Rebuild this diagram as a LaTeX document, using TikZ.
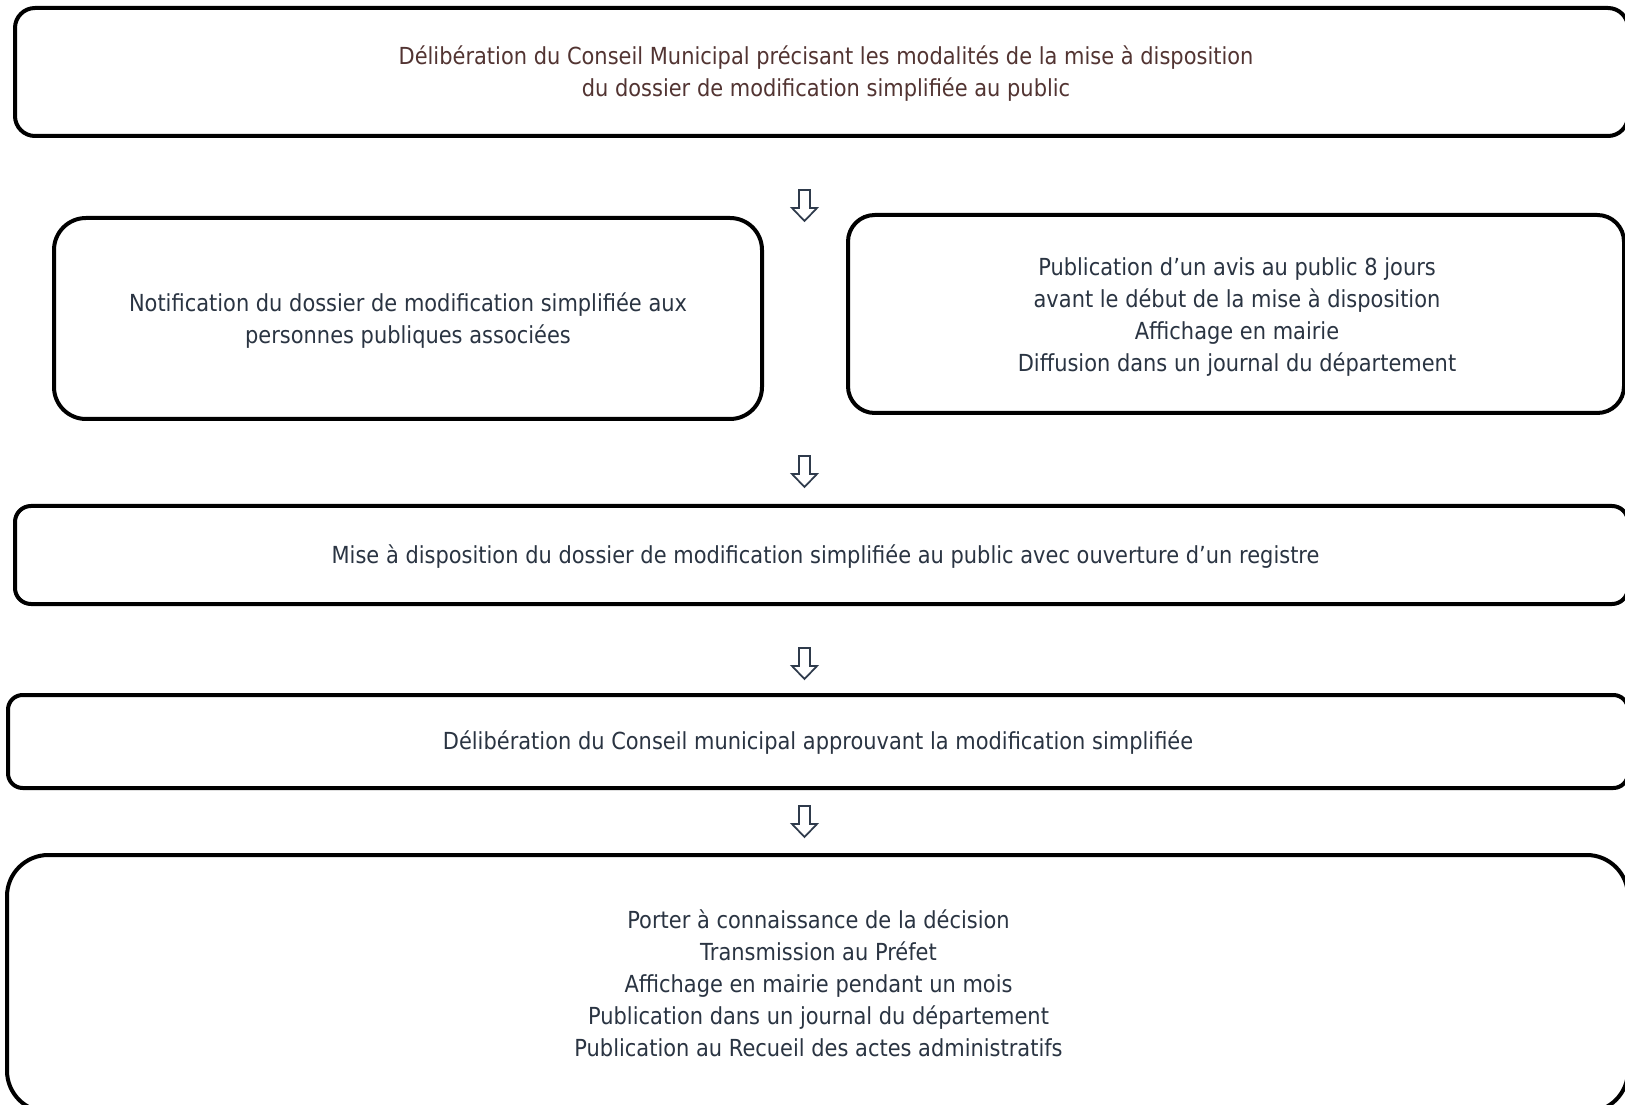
\documentclass[tikz,border=0pt]{standalone}
\usepackage{fontspec}
\setmainfont{DejaVu Sans}[FakeStretch=0.893]
\usetikzlibrary{calc}
\definecolor{txt}{RGB}{42,52,66}
\definecolor{brn}{RGB}{82,52,50}
\definecolor{arr}{RGB}{47,59,76}
\tikzset{
  stepbox/.style={draw=black, line width=3pt, fill=white, inner sep=0pt},
  steptext/.style={align=center, text=txt, inner sep=0pt, font=\fontsize{17.6pt}{24pt}\selectfont},
  hollowarrow/.style={draw=arr, line width=1.3pt, fill=white, line join=miter}
}
\newcommand\hollowdown[1]{%
  \draw[hollowarrow] ($(#1)+(-5.5,0)$) -- ++(11,0) -- ++(0,18) -- ++(7,0) -- ++(-12.5,13) -- ++(-12.5,-13) -- ++(7,0) -- cycle;}
\begin{document}
\begin{tikzpicture}[x=0.75pt,y=-0.75pt]
\path[use as bounding box, clip] (0,0) rectangle (1625,1105);
\fill[white] (0,0) rectangle (1625,1105);

\node[stepbox, minimum width=1209.75pt, minimum height=96pt, rounded corners=15pt] (b1) at (821.5,72) {};
\node[steptext, text=brn] (t1) at ($(b1.center)+(4.5,2)$) {Délibération du Conseil Municipal précisant les modalités de la mise à disposition\\du dossier de modification simplifiée au public};

\node[stepbox, minimum width=531pt, minimum height=150.75pt, rounded corners=24pt] (b2) at (408,318.5) {};
\node[steptext] (t2) at ($(b2.center)+(0,2)$) {Notification du dossier de modification simplifiée aux\\personnes publiques associées};

\node[stepbox, minimum width=582pt, minimum height=148.5pt, rounded corners=20pt] (b3) at (1236,314) {};
\node[steptext] (t3) at ($(b3.center)+(1,3.5)$) {Publication d’un avis au public 8 jours\\avant le début de la mise à disposition\\Affichage en mairie\\Diffusion dans un journal du département};

\node[stepbox, minimum width=1209.75pt, minimum height=73.5pt, rounded corners=12pt] (b4) at (821.5,555) {};
\node[steptext] (t4) at ($(b4.center)+(4,2)$) {Mise à disposition du dossier de modification simplifiée au public avec ouverture d’un registre};

\node[stepbox, minimum width=1215pt, minimum height=69.75pt, rounded corners=11pt] (b5) at (818,741.5) {};
\node[steptext] (t5) at ($(b5.center)+(0,1.5)$) {Délibération du Conseil municipal approuvant la modification simplifiée};

\node[stepbox, minimum width=1215.75pt, minimum height=192.75pt, rounded corners=31pt] (b6) at (817.5,983.5) {};
\node[steptext] (t6) at ($(b6.center)+(1,-0.5)$) {Porter à connaissance de la décision\\Transmission au Préfet\\Affichage en mairie pendant un mois\\Publication dans un journal du département\\Publication au Recueil des actes administratifs};

\coordinate (a1) at (804.5,190);
\coordinate (a2) at (804.5,456);
\coordinate (a3) at (804.5,648);
\coordinate (a4) at (804.5,806);
\hollowdown{a1}
\hollowdown{a2}
\hollowdown{a3}
\hollowdown{a4}
\end{tikzpicture}
\end{document}
